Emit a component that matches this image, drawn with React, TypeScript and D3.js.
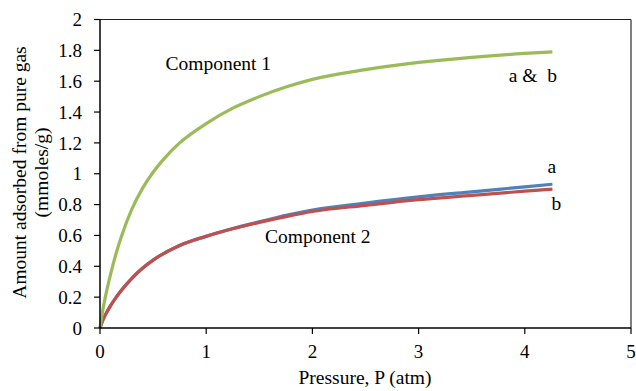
import React from "react";
import * as d3 from "d3";

const pressure1 = [0, 0.02, 0.05, 0.1, 0.15, 0.2, 0.3, 0.4, 0.5, 0.6, 0.75, 1, 1.25, 1.5, 1.75, 2, 2.5, 3, 3.5, 4, 4.26];
const comp1 = [0, 0.09, 0.2, 0.35, 0.48, 0.59, 0.77, 0.905, 1.01, 1.095, 1.2, 1.325, 1.425, 1.5, 1.562, 1.612, 1.675, 1.722, 1.755, 1.78, 1.79];

const pressure2 = [0, 0.02, 0.05, 0.1, 0.15, 0.2, 0.3, 0.4, 0.5, 0.75, 1, 1.25, 1.5, 1.75, 2, 2.5, 3, 3.5, 4, 4.26];
const comp2a = [0, 0.04, 0.085, 0.145, 0.197, 0.243, 0.322, 0.387, 0.44, 0.535, 0.595, 0.645, 0.688, 0.73, 0.765, 0.81, 0.85, 0.883, 0.915, 0.932];
const comp2b = [0, 0.04, 0.085, 0.145, 0.197, 0.243, 0.322, 0.387, 0.44, 0.535, 0.594, 0.643, 0.685, 0.722, 0.755, 0.795, 0.832, 0.86, 0.887, 0.9];

const xTicks = [0, 1, 2, 3, 4, 5];
const yTicks = [0, 0.2, 0.4, 0.6, 0.8, 1, 1.2, 1.4, 1.6, 1.8, 2];

const W = 636;
const H = 391;
const TXT: React.CSSProperties = { fontFamily: "Liberation Serif, Times New Roman, serif" };

export default function App() {
  const x = d3.scaleLinear().domain([0, 5]).range([100, 631]);
  const y = d3.scaleLinear().domain([0, 2]).range([328, 19.5]);

  const line = d3
    .line<[number, number]>()
    .x((d) => x(d[0]))
    .y((d) => y(d[1]))
    .curve(d3.curveMonotoneX);

  const s1 = pressure1.map((p, i) => [p, comp1[i]] as [number, number]);
  const s2a = pressure2.map((p, i) => [p, comp2a[i]] as [number, number]);
  const s2b = pressure2.map((p, i) => [p, comp2b[i]] as [number, number]);

  const x0 = x(0);
  const x1 = x(5);
  const y0 = y(0);
  const y1 = y(2);

  return (
    <svg
      width={W}
      height={H}
      style={{ position: "absolute", left: 0, top: 0, background: "#fff" }}
    >
      <rect x={0} y={0} width={W} height={H} fill="#fff" />
      {/* plot frame */}
      <line x1={x0} y1={y1} x2={x1} y2={y1} stroke="#222" strokeWidth={1.2} />
      <line x1={x1} y1={y1} x2={x1} y2={y0} stroke="#555" strokeWidth={1.5} />

      {/* series */}
      <path d={line(s2a) || ""} fill="none" stroke="#4F81BD" strokeWidth={3.2} />
      <path d={line(s2b) || ""} fill="none" stroke="#C0504D" strokeWidth={3.2} />
      <path d={line(s1) || ""} fill="none" stroke="#9BBB59" strokeWidth={3.2} />

      {/* axes */}
      <line x1={x0} y1={y1} x2={x0} y2={y0} stroke="#000" strokeWidth={1.5} />
      <line x1={x0} y1={y0} x2={x1} y2={y0} stroke="#000" strokeWidth={1.5} />

      {yTicks.map((t) => (
        <g key={"y" + t}>
          <line x1={x0 - 6} x2={x0} y1={y(t)} y2={y(t)} stroke="#000" strokeWidth={1.2} />
          <text x={82} y={y(t)} dy="0.35em" textAnchor="end" fontSize={19} style={TXT}>
            {String(t)}
          </text>
        </g>
      ))}
      {xTicks.map((t) => (
        <g key={"x" + t}>
          <line x1={x(t)} x2={x(t)} y1={y0} y2={y0 + 6} stroke="#000" strokeWidth={1.2} />
          <text x={x(t)} y={358} textAnchor="middle" fontSize={19} style={TXT}>
            {String(t)}
          </text>
        </g>
      ))}

      {/* axis titles */}
      <text x={365} y={384} textAnchor="middle" fontSize={19.5} style={TXT}>
        Pressure, P (atm)
      </text>
      <text transform="translate(26,172.5) rotate(-90)" textAnchor="middle" fontSize={19.5} style={TXT}>
        Amount adsorbed from pure gas
      </text>
      <text transform="translate(47.5,172.5) rotate(-90)" textAnchor="middle" fontSize={19.5} style={TXT}>
        (mmoles/g)
      </text>

      {/* annotations */}
      <text x={165.5} y={70} fontSize={19.5} style={TXT}>
        Component 1
      </text>
      <text x={265} y={243} fontSize={19.5} style={TXT}>
        Component 2
      </text>
      <text x={557} y={81.5} textAnchor="end" fontSize={19.5} style={{ ...TXT, whiteSpace: "pre" }}>
        {"a &  b"}
      </text>
      <text x={547.5} y={172.5} fontSize={19.5} style={TXT}>
        a
      </text>
      <text x={551.5} y={210} fontSize={19.5} style={TXT}>
        b
      </text>
    </svg>
  );
}
